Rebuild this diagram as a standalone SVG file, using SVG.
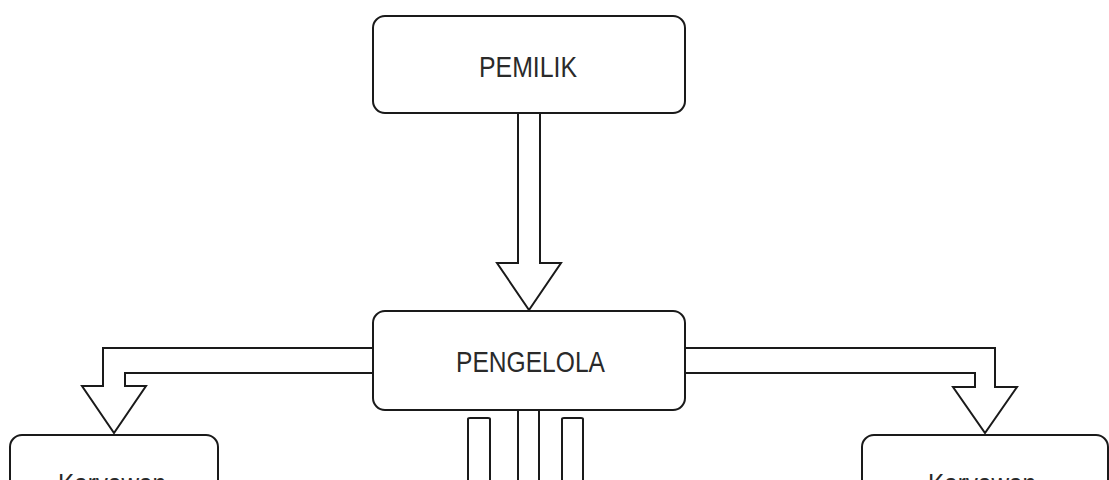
<svg xmlns="http://www.w3.org/2000/svg" width="1109" height="480" viewBox="0 0 1109 480">
<style>
.box{fill:#fff;stroke:#1a1a1a;stroke-width:2}
.lbl{font-family:"Liberation Sans",Arial,sans-serif;font-size:30px;fill:#2a2a2a}
.arr{fill:#fff;stroke:#1a1a1a;stroke-width:2;stroke-linejoin:miter}
.bar{fill:none;stroke:#1a1a1a;stroke-width:2}
</style>
<rect width="1109" height="480" fill="#fff"/>
<g id="connectors">
<polygon class="arr" points="518,113 518,263 497,263 529,310 561,263 540,263 540,113"/>
<polygon class="arr" points="373,348 103,348 103,386 82,386 114,433 146,386 125,386 125,373 373,373"/>
<polygon class="arr" points="685,348 995,348 995,387 1017,387 985,433 953,387 975,387 975,373 685,373"/>
<path class="bar" d="M518,410 V490 M539,410 V490"/>
<path class="bar" d="M468,490 V419 Q468,418 470,418 H488 Q490,418 490,419 V490"/>
<path class="bar" d="M562,490 V419 Q562,418 564,418 H581 Q583,418 583,419 V490"/>
</g>
<g id="pemilik">
<rect class="box" x="373" y="16" width="312" height="97" rx="12"/>
<text class="lbl" x="479" y="77" textLength="98" lengthAdjust="spacingAndGlyphs">PEMILIK</text>
</g>
<g id="pengelola">
<rect class="box" x="373" y="311" width="312" height="99" rx="12"/>
<text class="lbl" x="456" y="372" textLength="149" lengthAdjust="spacingAndGlyphs">PENGELOLA</text>
</g>
<g id="karyawan-left">
<rect class="box" x="10" y="435" width="208" height="100" rx="12"/>
<text class="lbl" x="58" y="494" textLength="108" lengthAdjust="spacingAndGlyphs">Karyawan</text>
</g>
<g id="karyawan-right">
<rect class="box" x="862" y="435" width="246" height="100" rx="12"/>
<text class="lbl" x="928" y="494" textLength="108" lengthAdjust="spacingAndGlyphs">Karyawan</text>
</g>
</svg>
